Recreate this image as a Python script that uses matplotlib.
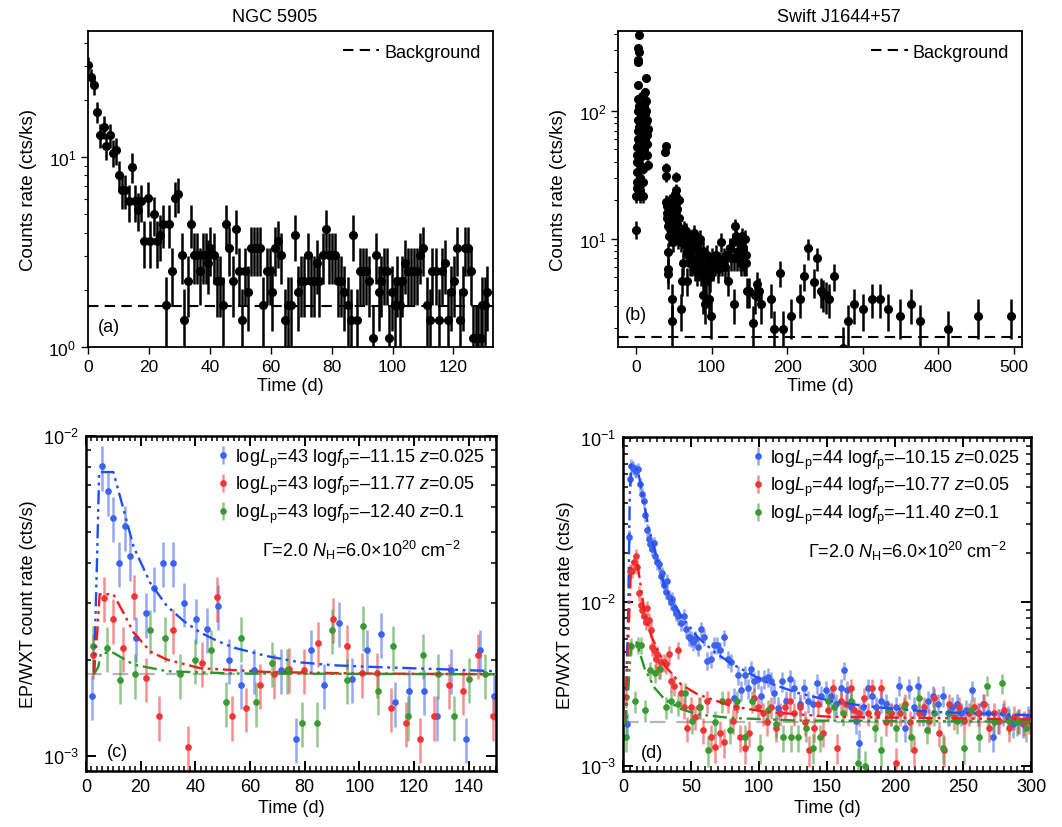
import numpy as np
import matplotlib
matplotlib.use('Agg')
import matplotlib.pyplot as plt
from matplotlib.ticker import MultipleLocator, LogLocator, NullFormatter

plt.rcParams['font.family'] = ['Liberation Sans', 'DejaVu Sans']
plt.rcParams['mathtext.fontset'] = 'custom'
plt.rcParams['mathtext.rm'] = 'Liberation Sans'
plt.rcParams['mathtext.it'] = 'Liberation Sans:italic'
plt.rcParams['mathtext.bf'] = 'Liberation Sans:bold'

# ---- (a) NGC 5905: daily counts, 3.6 ks exposure ----
expo_a = 3.6
days_a = [0.0, 0.9, 2.0, 3.0, 4.0, 5.1, 6.0, 7.1, 8.1, 9.2, 10.1, 11.0, 12.1, 13.3, 14.5, 15.5, 16.5, 17.5,
          18.5, 19.6, 20.5, 21.5, 22.6, 23.6, 24.6, 25.6, 26.7, 27.7, 28.7, 29.7, 30.8, 31.6, 32.9, 33.8,
          34.7, 35.8, 36.7, 37.7, 38.7, 39.5, 40.2, 41.2, 42.3, 43.3, 44.3, 45.4, 46.4, 47.5, 48.5, 49.5,
          50.4, 51.4, 52.5, 53.5, 54.5, 55.5, 56.5, 57.6, 58.6, 59.6, 60.5, 61.5, 62.5, 63.5, 64.6, 65.7,
          66.8, 67.9, 69.0, 70.0, 71.0, 72.2, 73.2, 74.1, 75.2, 76.0, 77.1, 78.1, 79.1, 80.1, 81.1, 82.2,
          83.2, 84.2, 85.2, 86.2, 87.1, 88.2, 89.2, 90.2, 91.2, 92.2, 93.5, 94.5, 95.5, 96.3, 97.3, 98.2,
          98.9, 99.8, 100.7, 101.5, 102.3, 103.2, 104.2, 105.1, 106.2, 107.1, 108.1, 109.1, 110.1, 111.2,
          112.2, 113.1, 114.2, 115.2, 116.2, 117.1, 118.2, 119.2, 120.1, 121.2, 122.2, 123.1, 123.8, 124.7,
          125.7, 126.5, 127.3, 128.1, 128.9, 129.5, 130.3, 131.1]
counts_a = [110, 95, 86, 62, 47, 52, 41, 47, 38, 39, 29, 24, 24, 21, 32, 21, 19, 21,
            13, 22, 13, 18, 13, 14, 16, 6, 16, 9, 22, 23, 11, 5, 8, 16,
            11, 11, 9, 11, 11, 10, 12, 11, 8, 8, 6, 16, 12, 8, 15, 9,
            5, 9, 7, 12, 12, 12, 12, 6, 9, 9, 7, 12, 13, 11, 5, 6,
            6, 14, 7, 8, 8, 11, 8, 8, 10, 8, 11, 15, 11, 11, 11, 8,
            8, 7, 6, 5, 14, 5, 9, 9, 9, 8, 4, 11, 7, 8, 9, 9,
            4, 7, 6, 8, 6, 8, 10, 9, 9, 9, 9, 11, 12, 6,
            5, 9, 9, 5, 9, 10, 5, 7, 8, 12, 5, 7, 12, 12,
            9, 4, 4, 4, 4, 6, 6, 7]
bkg_a = 1.65

# ---- (b) Swift J1644+57 ----
expo_b = 3.5
days_b = [0.0, 0.3, 0.6, 0.8, 1.0, 1.2, 1.5, 1.7, 2.0, 2.2, 2.4, 2.6, 2.8, 3.0, 2.9, 3.1, 3.3, 3.0, 3.6, 3.8,
          4.0, 4.2, 4.4, 4.6, 4.8, 5.0, 5.3, 5.6, 5.8, 6.0, 6.3, 6.6, 6.9, 7.2, 7.5, 7.8, 8.1, 8.4, 8.7, 9.0,
          9.3, 9.6, 9.9, 10.2, 10.5, 10.8, 11.1, 11.4, 11.7, 12.0, 12.3, 12.6, 12.9, 13.2, 13.5, 13.8, 14.1,
          14.4, 14.7, 15.0, 15.5, 16.0,
          38.5, 39.0, 39.5, 39.8, 40.2, 40.6, 41.0, 41.4, 41.8, 42.2, 42.5, 42.8, 43.2, 43.6, 44.0, 44.5,
          45.0, 45.5, 46.0, 46.5, 47.0, 47.5, 48.0, 48.5, 49.0, 49.5, 50.0, 50.5, 51.0, 51.5, 52.0, 52.5,
          53.0, 53.5, 54.0, 54.5, 55.0, 55.5, 56.0, 56.5, 57.0, 58.0, 59.0, 60.0, 61.0, 62.0, 63.0, 64.0,
          65.0, 66.0, 67.0, 68.0, 69.0, 70.0, 71.0, 72.0, 73.0, 74.0, 75.0, 76.0, 77.0, 78.0, 79.0, 80.0,
          81.0, 82.0, 83.0, 84.0, 85.0, 86.0, 87.0, 88.0, 89.0, 90.0, 91.0, 92.0, 93.0, 94.0, 95.0, 96.0,
          97.0, 98.0, 99.0, 100.0, 102.0, 104.0, 106.0, 108.0, 110.0, 112.0, 114.0, 116.0, 118.0, 120.0,
          122.0, 124.0, 126.0, 128.0, 129.0, 130.0, 131.0, 132.0, 133.0, 135.0, 137.0, 138.0, 139.0, 140.0,
          141.0, 142.0, 143.0, 144.0, 145.0, 146.0, 147.0,
          150, 155, 157, 160, 163, 166, 179, 183, 190, 194, 205, 217, 222, 228, 235, 239, 245, 248, 251,
          255, 262, 274, 280, 288, 300, 313, 323, 334, 349, 364, 376, 413, 453, 497]
rate_b = [11.8, 21.5, 25, 28, 33, 40, 45, 52, 60, 70, 85, 100, 125, 160, 240, 250, 290, 310, 395, 110,
          75, 55, 42, 30, 24, 21.5, 27, 38, 48, 65, 80, 95, 115, 130, 105, 88, 70, 58, 45, 35,
          28, 21.5, 50, 68, 90, 110, 125, 140, 95, 75, 60, 82, 120, 180, 100, 70, 55,
          45, 65, 85, 38, 72,
          48, 53, 36, 31, 19.5, 16, 18, 14.5, 12.5, 5.8, 5.3, 7.8, 10.5, 13.5, 17, 20,
          15.5, 12, 10.5, 14, 11, 3.4, 2.25, 9.5, 12.5, 16, 14, 11, 22.5, 18.5, 15, 30.5,
          24, 20, 17, 13, 11.5, 10, 12.5, 20, 14.5, 11, 9.5, 2.8, 4.7, 6.5, 10.5, 12,
          9, 11.5, 8, 4.7, 7.5, 10, 6.5, 9, 8, 6.5, 7, 10, 11, 6, 8.5, 5.5,
          7, 9.5, 6, 7.5, 10, 5.5, 6.5, 3.6, 8, 5, 3.1, 6.5, 4.7, 7.5, 6, 5.5,
          3.4, 5, 2.5, 7, 6, 6.5, 7.5, 5.8, 6.5, 9.5, 6.5, 7, 6, 7.5,
          4.7, 8.5, 7, 9.5, 3.1, 7, 12.5, 10.5, 7, 8, 7, 9.5, 6.5, 10.5,
          7, 8.5, 6.5, 10, 7.5, 6.5, 3.9,
          3.9, 2.2, 3.6, 4.4, 3.9, 3.1, 3.4, 1.95, 5.4, 1.95, 2.5, 3.4, 5.1, 8.4, 4.6, 7.0, 3.9, 3.7, 3.6,
          3.4, 5.1, 1.4, 2.25, 3.1, 2.8, 3.4, 3.4, 2.8, 2.5, 3.1, 2.25, 1.95, 2.5, 2.5]
bkg_b = 1.69

# ---- (c) simulated EP/WXT, logLp = 43 ----
t_c_blue = [2.2, 5.9, 7.9, 10.0, 12.0, 14.1, 16.1, 18.3, 21.8, 24.9, 28.2, 31.8, 35.8, 40.1, 44.3, 48.4,
            52.3, 56.7, 61.4, 71.5, 76.8, 82.2, 87.0, 92.5, 97.4, 102.9, 107.8, 113.1, 118.2, 123.7,
            128.6, 133.7, 139.0, 144.1, 149.4]
r_c_blue = [0.00154, 0.00802, 0.0067, 0.00553, 0.00401, 0.00521, 0.0042, 0.00234, 0.00279, 0.00335,
            0.00401, 0.00401, 0.003, 0.00267, 0.0025, 0.00294, 0.002, 0.00167, 0.00186, 0.00186,
            0.00113, 0.00214, 0.00167, 0.00261, 0.00174, 0.00214, 0.00241, 0.00147, 0.0016, 0.0016,
            0.00133, 0.00186, 0.00113, 0.00214, 0.00154]
t_c_red = [2.4, 6.6, 9.8, 13.4, 17.7, 21.8, 26.7, 32.0, 37.4, 42.4, 47.9, 53.3, 58.6, 63.8, 68.9, 74.3,
           79.6, 84.9, 90.3, 95.6, 101.1, 106.4, 111.7, 117.0, 122.3, 127.4, 132.9, 138.1, 143.3, 148.8]
r_c_red = [0.00207, 0.00312, 0.00267, 0.00218, 0.00317, 0.00175, 0.00133, 0.00248, 0.00107, 0.00195,
           0.00313, 0.00133, 0.00141, 0.00167, 0.0018, 0.00187, 0.00186, 0.00226, 0.00268, 0.00221,
           0.00181, 0.00181, 0.00141, 0.00127, 0.00113, 0.00133, 0.00167, 0.0016, 0.00207, 0.00133]
t_c_green = [2.4, 7.6, 12.5, 18.0, 23.5, 29.0, 34.5, 40.0, 45.7, 51.3, 56.7, 62.3, 68.1, 73.6, 79.1,
             84.6, 90.1, 95.6, 101.5, 106.8, 112.5, 117.8, 123.4, 128.9, 134.5, 140.2, 146.0]
r_c_green = [0.0022, 0.00218, 0.00173, 0.0018, 0.00247, 0.00234, 0.0018, 0.002, 0.00214, 0.00147,
             0.00234, 0.00147, 0.00195, 0.00186, 0.00127, 0.00127, 0.00248, 0.00173, 0.00254, 0.0016,
             0.0022, 0.00133, 0.00207, 0.0018, 0.00133, 0.00174, 0.0018]
m_c_blue_t = [2.9, 4.0, 4.8, 10.0, 13.7, 17.4, 23.5, 29.6, 35.7, 41.8, 47.9, 54.0, 66.3, 78.5, 90.7, 103, 127, 150]
m_c_blue = [0.0018, 0.004, 0.0077, 0.0077, 0.0059, 0.0045, 0.00347, 0.00294, 0.00264, 0.00243, 0.00229,
            0.00218, 0.00205, 0.00196, 0.00192, 0.0019, 0.00187, 0.00184]
m_c_red_t = [2.9, 4.2, 5.0, 10.0, 13.7, 17.4, 23.5, 29.6, 41.8, 66, 100, 150]
m_c_red = [0.0018, 0.0025, 0.0032, 0.0032, 0.0028, 0.00243, 0.00212, 0.002, 0.00188, 0.00183, 0.00181, 0.0018]
m_c_green_t = [2.9, 4.5, 5.5, 10.0, 17.4, 29.6, 54, 150]
m_c_green = [0.0018, 0.0019, 0.0021, 0.0021, 0.00193, 0.00184, 0.00181, 0.0018]
bkg_c = 0.0018

# ---- (d) simulated EP/WXT, logLp = 44 ----
t_d_blue = [3.0, 4.4, 5.4, 6.1, 7.3, 8.5, 9.8, 11.0, 12.7, 14.2, 15.2, 16.4, 17.6, 18.9, 20.1, 21.3, 22.8,
            23.8, 25.2, 26.4, 27.7, 28.9, 30.1, 31.3, 32.6, 33.8, 35.0, 36.2, 37.5, 38.7, 40.4, 42.4, 44.8,
            46.5, 48.2, 49.7, 51.4, 53.1, 55.1, 57.6, 59.5, 62.0, 64.4, 66.6, 69.0, 71.5, 74.0, 77.1, 79.6,
            82.0, 84.5, 87.0, 89.4, 91.8, 94.3, 96.7, 99.2, 101.6, 104.0, 106.5, 109.0, 111.4, 113.9, 116.8,
            120.0, 122.5, 126.0, 129.8, 133.0, 136.0, 139.6, 142.8, 145.7, 149.4, 153.0, 156.7, 160.4, 162.4,
            164.8, 167.8, 171.4, 173.9, 176.3, 180.0, 183.0, 186.0, 189.8, 193.5, 197.0, 201.0, 203.0, 207.0,
            210.6, 214.3, 216.7, 220.4, 224.0, 227.8, 231.4, 235.0, 238.8, 241.7, 245.6, 248.6, 252.3, 256.7,
            260.8, 264.5, 268.2, 271.9, 275.5, 279.2, 282.9, 286.5, 290.2, 293.9, 297.6]
r_d_blue = [0.0018, 0.025, 0.0563, 0.068, 0.066, 0.064, 0.063, 0.065, 0.0525, 0.0455, 0.0413, 0.0341, 0.0275,
            0.0244, 0.0227, 0.0212, 0.0229, 0.0192, 0.0175, 0.017, 0.0144, 0.015, 0.0128, 0.0116, 0.0134,
            0.0108, 0.01, 0.0104, 0.0092, 0.0086, 0.0082, 0.0075, 0.0082, 0.00684, 0.0061, 0.006, 0.0057,
            0.006, 0.0053, 0.00684, 0.0061, 0.0044, 0.0045, 0.0055, 0.0055, 0.0051, 0.0061, 0.0045, 0.0043,
            0.0026, 0.0036, 0.0029, 0.0036, 0.003, 0.0039, 0.0033, 0.0034, 0.0027, 0.0034, 0.0035, 0.0033,
            0.0028, 0.00228, 0.0033, 0.0025, 0.0034, 0.003, 0.0024, 0.003, 0.0025, 0.0024, 0.0032, 0.0027,
            0.0029, 0.0027, 0.0024, 0.003, 0.00385, 0.0029, 0.0023, 0.0019, 0.00138, 0.0023, 0.003, 0.0027,
            0.0023, 0.0025, 0.0024, 0.0021, 0.0023, 0.0031, 0.0017, 0.003, 0.0023, 0.0031, 0.0021, 0.0025,
            0.0027, 0.0024, 0.0027, 0.0021, 0.0023, 0.0024, 0.0021, 0.0022, 0.0029, 0.0021, 0.0024, 0.0021,
            0.0015, 0.0019, 0.0021, 0.002, 0.0018, 0.0019, 0.0018, 0.002]
t_d_red = [2.4, 5.4, 6.9, 8.3, 9.3, 10.5, 11.8, 13.0, 14.2, 15.4, 16.7, 17.9, 19.1, 20.3, 21.6, 22.8, 24.0,
           25.2, 26.4, 28.2, 30.1, 31.8, 33.8, 35.5, 37.5, 40.4, 42.4, 44.6, 47.0, 49.7, 52.7, 55.6, 58.8,
           62.0, 65.0, 67.8, 71.0, 74.2, 77.1, 80.8, 83.3, 85.7, 89.4, 93.0, 96.0, 99.2, 102.9, 106.0, 109.0,
           112.7, 115.8, 118.8, 122.5, 126.0, 129.8, 133.5, 136.7, 140.3, 143.3, 147.0, 150.6, 154.3, 157.5,
           160.4, 164.0, 167.3, 170.2, 173.9, 177.0, 180.0, 183.2, 186.6, 189.8, 193.5, 197.0, 201.0, 204.0,
           207.4, 211.3, 214.3, 218.0, 221.6, 225.3, 229.0, 232.7, 236.3, 240.0, 243.7, 247.4, 251.0, 254.7,
           258.4, 262.0, 265.7, 269.4, 273.0, 276.8, 280.4, 284.0, 287.8, 291.4, 295.0, 298.8]
r_d_red = [0.00264, 0.0155, 0.0155, 0.0175, 0.0192, 0.0165, 0.0113, 0.0096, 0.009, 0.0082, 0.00756, 0.0092,
           0.0078, 0.0068, 0.0053, 0.0051, 0.0045, 0.0048, 0.0039, 0.0043, 0.0043, 0.0042, 0.0048, 0.0033,
           0.0031, 0.0051, 0.0028, 0.0023, 0.0017, 0.0023, 0.002, 0.0023, 0.00166, 0.0025, 0.0015, 0.00131,
           0.0016, 0.0014, 0.0025, 0.0019, 0.0023, 0.0015, 0.0013, 0.0016, 0.0026, 0.0023, 0.0021, 0.00185,
           0.0023, 0.0017, 0.0021, 0.0023, 0.0025, 0.0021, 0.0023, 0.00185, 0.00126, 0.0017, 0.0024, 0.0016,
           0.0022, 0.003, 0.0013, 0.0025, 0.0024, 0.003, 0.0022, 0.0021, 0.0026, 0.0021, 0.003, 0.0021, 0.003,
           0.00185, 0.0021, 0.00105, 0.0021, 0.0024, 0.00185, 0.00126, 0.0021, 0.0023, 0.0019, 0.0026, 0.0016,
           0.00126, 0.0024, 0.002, 0.0023, 0.0019, 0.0021, 0.0023, 0.0021, 0.0024, 0.0017, 0.0021, 0.0019,
           0.0022, 0.0017, 0.002, 0.0019, 0.00185, 0.0019]
t_d_green = [2.4, 6.1, 8.6, 11.0, 13.5, 15.9, 19.6, 23.3, 26.9, 31.8, 35.5, 40.4, 45.3, 50.7, 56.3, 62.5,
             67.3, 72.7, 78.9, 84.0, 89.4, 94.8, 101.0, 106.5, 112.7, 118.0, 123.7, 128.6, 134.7, 139.6,
             145.0, 150.6, 155.5, 161.6, 167.8, 172.6, 178.0, 185.0, 189.8, 195.0, 201.0, 206.5, 212.0,
             218.0, 223.6, 229.0, 235.0, 240.0, 245.6, 251.0, 256.0, 262.0, 267.7, 273.0, 278.7, 284.0,
             290.0, 296.0]
r_d_green = [0.0015, 0.0054, 0.0025, 0.0055, 0.0055, 0.0022, 0.00385, 0.0037, 0.0039, 0.0023, 0.0025,
             0.0024, 0.0028, 0.0019, 0.0023, 0.00126, 0.00185, 0.0025, 0.00166, 0.0025, 0.0015, 0.0025,
             0.0013, 0.0022, 0.0018, 0.0015, 0.0015, 0.0015, 0.0017, 0.0013, 0.0015, 0.0025, 0.0023, 0.0021,
             0.0025, 0.00105, 0.001, 0.0017, 0.00126, 0.0022, 0.0017, 0.0023, 0.0015, 0.0026, 0.00166, 0.0021,
             0.0013, 0.0021, 0.0019, 0.0013, 0.0022, 0.0015, 0.0031, 0.00185, 0.0032, 0.0019, 0.00185, 0.0017]
m_d_blue_t = [1.7, 4.0, 5.0, 6.1, 11.0, 18.4, 25.7, 30.6, 42.9, 55.1, 67.4, 79.6, 104, 128.6, 153, 177.6,
              202, 226.5, 251, 275.5, 300]
m_d_blue = [0.0018, 0.01, 0.045, 0.0683, 0.0636, 0.0296, 0.0175, 0.0125, 0.00822, 0.0061, 0.00496, 0.00423,
            0.00329, 0.0028, 0.0025, 0.00233, 0.00223, 0.00215, 0.00211, 0.00208, 0.00205]
m_d_red_t = [1.7, 4.0, 6.0, 10.5, 15.9, 20.8, 30.6, 42.9, 55.1, 79.6, 104, 153, 226, 300]
m_d_red = [0.0018, 0.006, 0.0175, 0.0175, 0.0086, 0.00624, 0.00413, 0.00314, 0.00274, 0.00233, 0.00215,
           0.002, 0.00197, 0.00193]
m_d_green_t = [1.7, 4.0, 6.0, 10.0, 15.9, 23.3, 30.6, 42.9, 55, 79.6, 128, 300]
m_d_green = [0.0018, 0.003, 0.0057, 0.0057, 0.00395, 0.003, 0.00256, 0.00223, 0.00207, 0.00197, 0.0019, 0.00187]
bkg_d = 0.00185

labels_c = ['log$L_{\\rm p}$=43 log$f_{\\rm p}$=–11.15 $z$=0.025',
            'log$L_{\\rm p}$=43 log$f_{\\rm p}$=–11.77 $z$=0.05',
            'log$L_{\\rm p}$=43 log$f_{\\rm p}$=–12.40 $z$=0.1']
labels_d = ['log$L_{\\rm p}$=44 log$f_{\\rm p}$=–10.15 $z$=0.025',
            'log$L_{\\rm p}$=44 log$f_{\\rm p}$=–10.77 $z$=0.05',
            'log$L_{\\rm p}$=44 log$f_{\\rm p}$=–11.40 $z$=0.1']
spec_text = 'Γ=2.0 $N_{\\rm H}$=6.0×10$^{20}$ cm$^{-2}$'

c_blue = '#3d62ec'
c_red = '#ee3535'
c_green = '#3a9a32'

fig = plt.figure(figsize=(10.62, 8.28), dpi=100)
ax_a = fig.add_axes([0.0829, 0.5797, 0.3814, 0.3816])
ax_b = fig.add_axes([0.5819, 0.5797, 0.3804, 0.3816])
ax_c = fig.add_axes([0.0810, 0.0680, 0.3860, 0.4046])
ax_d = fig.add_axes([0.5866, 0.0680, 0.3842, 0.4034])


def top_style(ax):
    ax.set_yscale('log')
    ax.tick_params(which='both', direction='out', top=False, right=False, labelsize=12.5)
    ax.tick_params(which='major', length=5, width=1)
    ax.tick_params(which='minor', length=3, width=0.8)
    ax.yaxis.set_minor_formatter(NullFormatter())
    for s in ax.spines.values():
        s.set_linewidth(1.3)
    ax.set_xlabel('Time (d)', fontsize=13, labelpad=2)
    ax.set_ylabel('Counts rate (cts/ks)', fontsize=13.5, labelpad=8)


def bottom_style(ax):
    ax.set_yscale('log')
    ax.tick_params(which='both', direction='in', top=True, right=True, labelsize=13)
    ax.tick_params(which='major', length=7, width=1.4, pad=5)
    ax.tick_params(which='minor', length=3.5, width=1.1)
    ax.yaxis.set_minor_formatter(NullFormatter())
    for s in ax.spines.values():
        s.set_linewidth(1.8)
    ax.set_xlabel('Time (d)', fontsize=13, labelpad=3)
    ax.set_ylabel('EP/WXT count rate (cts/s)', fontsize=13)


# (a)
ca = np.array(counts_a, dtype=float)
ax_a.errorbar(days_a, ca / expo_a, yerr=np.sqrt(ca) / expo_a, fmt='o', color='k',
              ms=5.5, elinewidth=1.8, capsize=0, zorder=3)
ax_a.axhline(bkg_a, color='k', lw=1.5, dashes=(5, 3), label='Background', zorder=2)
top_style(ax_a)
ax_a.set_xlim(0, 133)
ax_a.set_ylim(1, 46)
ax_a.xaxis.set_major_locator(MultipleLocator(20))
ax_a.set_title('NGC 5905', fontsize=13, x=0.46, pad=7)
ax_a.legend(loc='upper right', frameon=False, fontsize=13, handlelength=2.0,
            handletextpad=0.3, borderaxespad=0.3)
ax_a.text(0.025, 0.05, '(a)', transform=ax_a.transAxes, fontsize=13)

# (b)
rb = np.array(rate_b)
ax_b.errorbar(days_b, rb, yerr=np.sqrt(rb * expo_b) / expo_b, fmt='o', color='k',
              ms=5.5, elinewidth=1.8, capsize=0, zorder=3)
ax_b.axhline(bkg_b, color='k', lw=1.5, dashes=(5, 3), label='Background', zorder=2)
top_style(ax_b)
ax_b.set_xlim(-24, 511)
ax_b.set_ylim(1.42, 422)
ax_b.xaxis.set_major_locator(MultipleLocator(100))
ax_b.set_title('Swift J1644+57', fontsize=13, x=0.547, pad=7)
ax_b.legend(loc='upper right', frameon=False, fontsize=13, handlelength=2.0,
            handletextpad=0.3, borderaxespad=0.3)
ax_b.text(0.017, 0.09, '(b)', transform=ax_b.transAxes, fontsize=13)


def sim_panel(ax, sets, models, labels, bkg):
    ax.axhline(bkg, color='#b5b5b5', lw=1.6, dashes=(7, 5), zorder=1)
    handles = []
    for (t, r, col, ferr, aerr), lab in zip(sets, labels):
        r = np.array(r)
        h = ax.errorbar(t, r, yerr=ferr * r + aerr, fmt='o', color=col, ms=3.8,
                        elinewidth=1.8, ecolor=col, capsize=0, zorder=2, label=lab)
        h[2][0].set_alpha(0.55)
        handles.append(h)
    for t, m, col in models:
        ax.plot(t, m, color=col, lw=1.7, dashes=(6, 2, 1.2, 2, 1.2, 2), zorder=4)
    ax.legend(handles=handles, loc='upper right', frameon=False, fontsize=13,
              handlelength=0.6, handletextpad=0.35, labelspacing=0.25, borderaxespad=0.2)


sim_panel(ax_c,
          [(t_c_blue, r_c_blue, c_blue, 0.16, 0.0), (t_c_red, r_c_red, c_red, 0.16, 0.0),
           (t_c_green, r_c_green, c_green, 0.16, 0.0)],
          [(m_c_blue_t, m_c_blue, '#1f4ef5'), (m_c_red_t, m_c_red, '#f01c1c'),
           (m_c_green_t, m_c_green, '#2a962a')],
          labels_c, bkg_c)
bottom_style(ax_c)
ax_c.set_xlim(0, 150)
ax_c.set_ylim(9.0e-4, 1e-2)
ax_c.xaxis.set_major_locator(MultipleLocator(20))
ax_c.xaxis.set_minor_locator(MultipleLocator(2))
ax_c.text(0.43, 0.66, spec_text, transform=ax_c.transAxes, fontsize=13, va='center')
ax_c.text(0.05, 0.045, '(c)', transform=ax_c.transAxes, fontsize=13)

sim_panel(ax_d,
          [(t_d_blue, r_d_blue, c_blue, 0.09, 0.00015), (t_d_red, r_d_red, c_red, 0.09, 0.00015),
           (t_d_green, r_d_green, c_green, 0.09, 0.00015)],
          [(m_d_blue_t, m_d_blue, '#1f4ef5'), (m_d_red_t, m_d_red, '#f01c1c'),
           (m_d_green_t, m_d_green, '#2a962a')],
          labels_d, bkg_d)
bottom_style(ax_d)
ax_d.set_xlim(0, 300)
ax_d.set_ylim(9.4e-4, 0.102)
ax_d.xaxis.set_major_locator(MultipleLocator(50))
ax_d.xaxis.set_minor_locator(MultipleLocator(5))
ax_d.text(0.453, 0.66, spec_text, transform=ax_d.transAxes, fontsize=13, va='center')
ax_d.text(0.044, 0.04, '(d)', transform=ax_d.transAxes, fontsize=13)

fig.savefig('out.png', dpi=100)
